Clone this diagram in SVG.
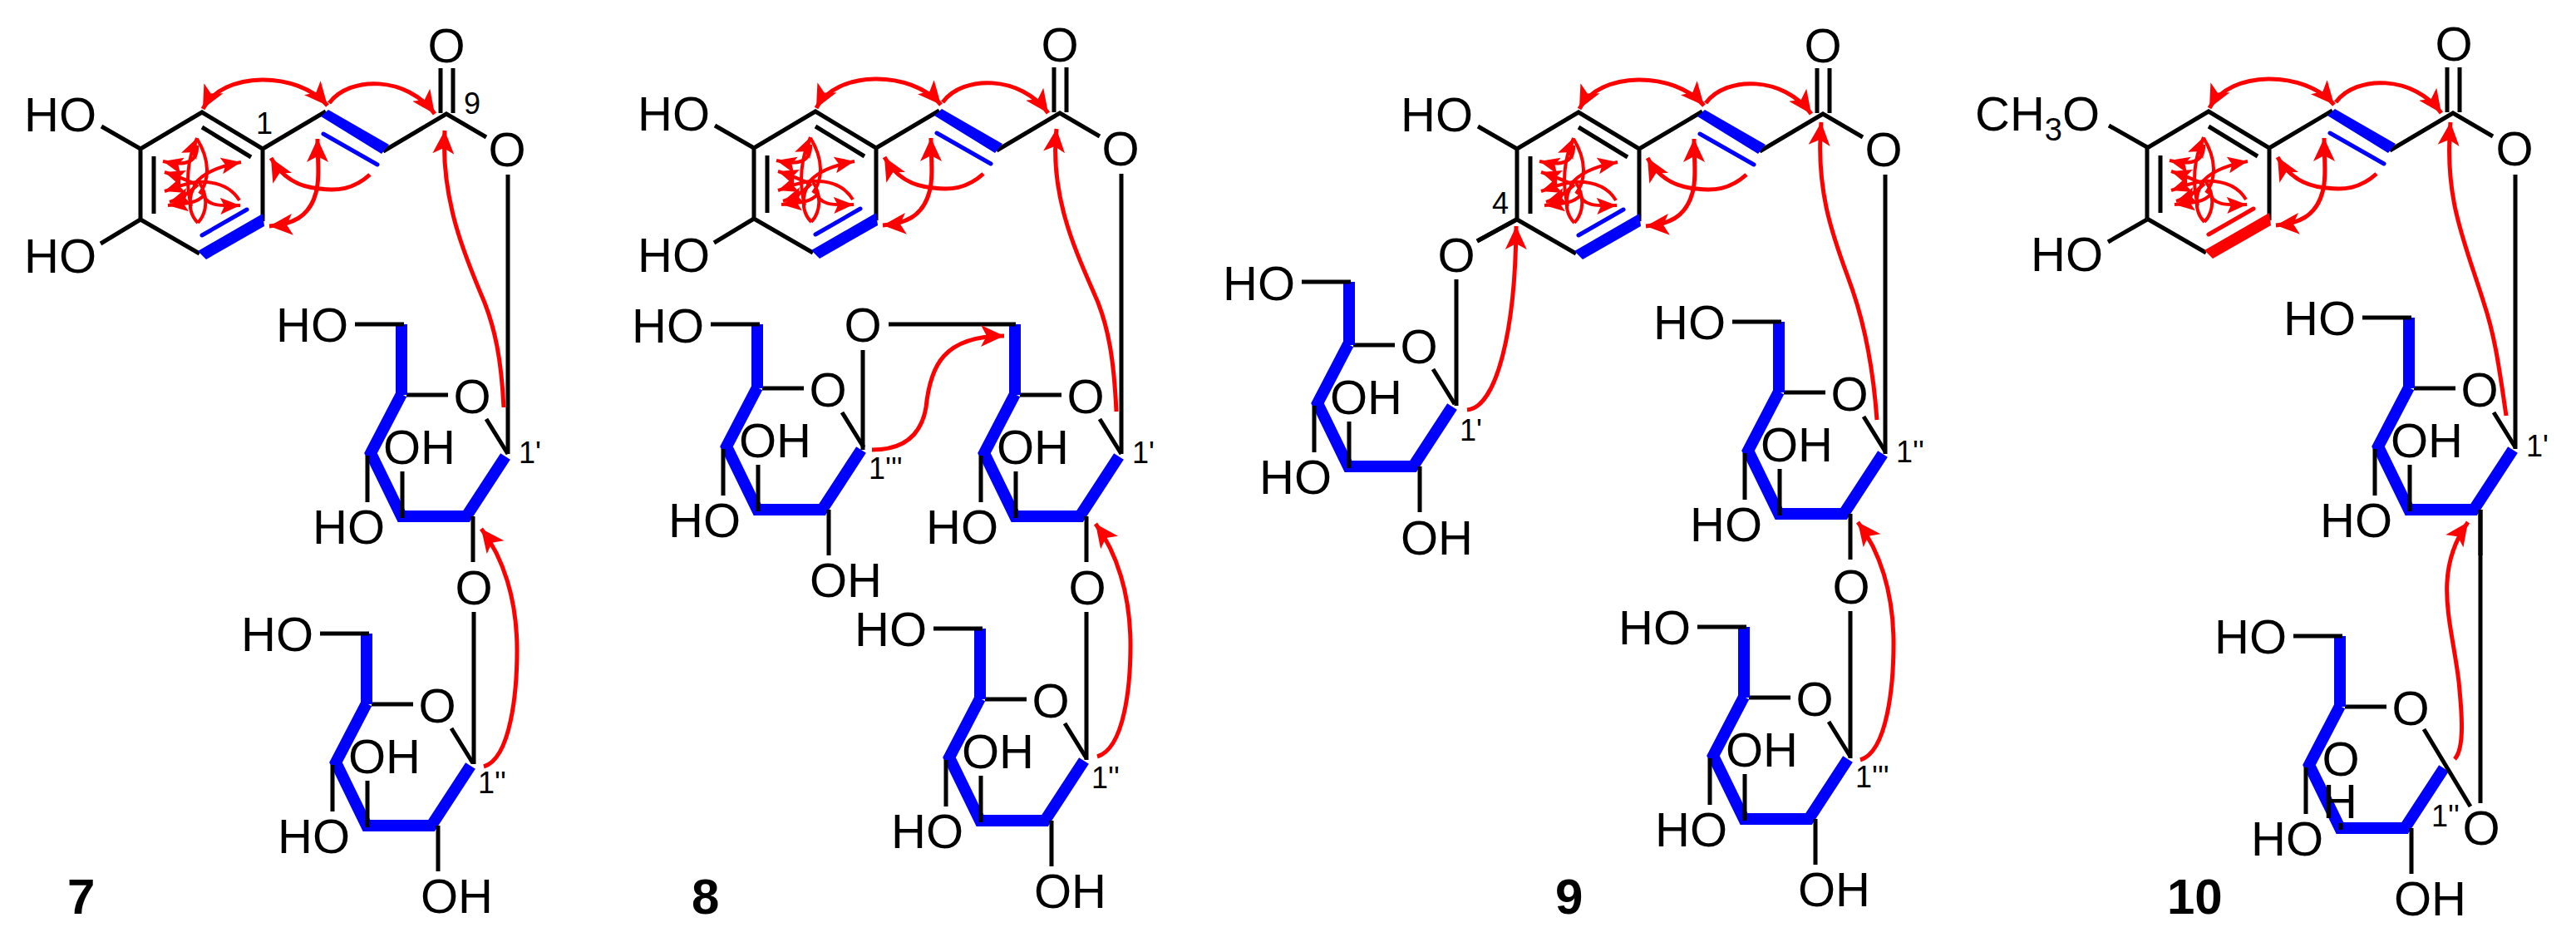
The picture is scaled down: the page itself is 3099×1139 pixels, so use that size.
<svg xmlns="http://www.w3.org/2000/svg" width="3099" height="1139" viewBox="0 0 3099 1139">
<style>
text{font-family:"Liberation Sans",Arial,sans-serif;fill:#000}
.t{font-size:58px}
.n{font-size:36px}
.b{font-size:60px;font-weight:bold}
.m{text-anchor:middle}
.k{fill:none;stroke:#000;stroke-width:5;stroke-linecap:butt;stroke-linejoin:miter}
.c{fill:none;stroke:#00f;stroke-width:14;stroke-linejoin:miter}
.i{fill:none;stroke:#00f;stroke-width:5;stroke-linecap:round}
.ir{fill:none;stroke:#f00;stroke-width:5;stroke-linecap:round}
.r{fill:none;stroke:#f00;stroke-width:5}
.a{marker-end:url(#h)}
.d{marker-start:url(#hs);marker-end:url(#h)}
.s{fill:none;stroke:#f00;stroke-width:4;marker-end:url(#hm)}
.p{fill:none;stroke:#f00;stroke-width:4}
</style>
<defs>
<marker id="h" markerUnits="userSpaceOnUse" markerWidth="30" markerHeight="28" refX="28" refY="14" orient="auto"><path d="M28,14 L0,1 L7,14 L0,27 Z" fill="#f00"/></marker>
<marker id="hs" markerUnits="userSpaceOnUse" markerWidth="30" markerHeight="28" refX="28" refY="14" orient="auto-start-reverse"><path d="M28,14 L0,1 L7,14 L0,27 Z" fill="#f00"/></marker>
<marker id="hm" markerUnits="userSpaceOnUse" markerWidth="26" markerHeight="22" refX="24" refY="11" orient="auto"><path d="M24,11 L0,1 L5,11 L0,21 Z" fill="#f00"/></marker>
<g id="ring">
<path class="k" d="M169,264 V179 L243,135 L316,179 V266 M169,264 L240,305 M243,153 L302,189 M185,188 V257 M316,179 L392,134 M461,182 L537,137 L585,165 M530,82 V136 M545,82 V136"/>
<path fill="#00f" d="M386,140 L395,132 L468,174 L459,185 Z"/>
<path class="i" d="M389,161 L454,198"/>
</g>
<path id="thick" d="M238,302 L248,312 L318,272 L316,257 Z"/>
<g id="hmbc">
<path class="r d" d="M244,131 C268,85 358,85 394,127"/>
<path class="r a" d="M396,124 C420,91 490,91 523,137"/>
<path class="r a" d="M445,210 C425,228 405,230 385,227 C360,225 340,215 326,190"/>
<path class="r d" d="M382,167 C382,190 385,215 380,232 C372,262 350,270 324,272"/>
<path class="p" d="M237,167 C253,193 252,217 240,233 M238,268 C225,255 227,235 235,222 M238,268 C250,255 250,235 240,220"/>
<path class="s" d="M230,248 C223,220 225,193 237,166"/>
<path class="s" d="M237,175 C238,193 226,201 196,194"/>
<path class="s" d="M237,223 C227,217 213,212 198,207"/>
<path class="s" d="M288,241 C277,223 257,218 237,219 C223,220 213,225 198,230"/>
<path class="s" d="M238,222 C230,230 220,238 204,243"/>
<path class="s" d="M245,235 C237,245 220,245 202,247"/>
<path class="s" d="M233,223 C243,208 263,200 290,195"/>
<path class="s" d="M243,230 C247,248 263,248 289,247"/>
</g>
<g id="sugar">
<path class="c" d="M483,474 L446,545 L483,621 H561 L608,549"/>
<path class="k" d="M489,475 H539 M442,548 V604 M569,621 V676"/>
</g>
</defs>
<rect width="3099" height="1139" fill="#fff"/>

<g id="compound-7">
<g id="c7-acyl"><use href="#ring"/><use href="#thick" fill="#00f"/><path class="i" d="M243,283 L297,252"/><path class="k" d="M122,152 L169,179 M121,293 L169,264"/>
<text class="t" x="29" y="158">HO</text><text class="t" x="29" y="328">HO</text><text class="t m" x="537" y="75">O</text><text class="t m" x="610" y="200">O</text><text class="n" x="308" y="161">1</text><text class="n" x="558" y="137">9</text></g>
<g id="c7-sugar-1"><use href="#sugar"/><path class="c" d="M483,390 V475"/><path class="k" d="M427,390 H486 M585,504 L611,546 M484,567 V623"/>
<text class="t" x="332" y="411">HO</text><text class="t m" x="568" y="497">O</text><text class="t" x="461" y="558">OH</text><text class="t" x="376" y="654">HO</text><text class="n" x="624" y="557">1'</text><text class="t m" x="570" y="727">O</text></g>
<g id="c7-sugar-2" transform="translate(-42,372)"><use href="#sugar"/><path class="c" d="M483,390 V475"/><path class="k" d="M427,390 H486 M585,504 L611,546 M484,567 V623"/>
<text class="t" x="332" y="411">HO</text><text class="t m" x="568" y="497">O</text><text class="t" x="461" y="558">OH</text><text class="t" x="376" y="654">HO</text><text class="t" x="548" y="726">OH</text><text class="n" x="617" y="582">1''</text></g>
<text id="c7-label" class="b" x="81" y="1099">7</text>
</g>

<g id="compound-8">
<g id="c8-acyl" transform="translate(738,-1)"><use href="#ring"/><use href="#thick" fill="#00f"/><path class="i" d="M243,283 L297,252"/><path class="k" d="M122,152 L169,179 M121,293 L169,264"/>
<text class="t" x="29" y="158">HO</text><text class="t" x="29" y="328">HO</text><text class="t m" x="537" y="75">O</text><text class="t m" x="610" y="200">O</text></g>
<g id="c8-sugar-1" transform="translate(738,0)"><use href="#sugar"/><path class="c" d="M483,390 V475"/><path class="k" d="M585,504 L611,546 M484,567 V623"/>
<text class="t m" x="568" y="497">O</text><text class="t" x="461" y="558">OH</text><text class="t" x="376" y="654">HO</text><text class="n" x="624" y="557">1'</text><text class="t m" x="570" y="727">O</text></g>
<g id="c8-sugar-2" transform="translate(696,366)"><use href="#sugar"/><path class="c" d="M483,390 V475"/><path class="k" d="M427,390 H486 M585,504 L611,546 M484,567 V623"/>
<text class="t" x="332" y="411">HO</text><text class="t m" x="568" y="497">O</text><text class="t" x="461" y="558">OH</text><text class="t" x="376" y="654">HO</text><text class="t" x="548" y="726">OH</text><text class="n" x="617" y="582">1''</text></g>
<g id="c8-sugar-3" transform="translate(428,-8)"><use href="#sugar"/><path class="c" d="M483,398 V475"/><path class="k" d="M427,398 H486 M585,504 L611,546 M484,567 V623"/>
<text class="t" x="332" y="420">HO</text><text class="t m" x="568" y="497">O</text><text class="t" x="461" y="558">OH</text><text class="t" x="376" y="654">HO</text><text class="t" x="546" y="726">OH</text><text class="n" x="617" y="584">1'''</text><text class="t m" x="610" y="419">O</text></g>
<text id="c8-label" class="b" x="832" y="1099">8</text>
</g>

<g id="compound-9">
<g id="c9-acyl" transform="translate(1656,0)"><use href="#ring"/><use href="#thick" fill="#00f"/><path class="i" d="M243,283 L297,252"/><path class="k" d="M122,152 L169,179 M121,290 L169,264"/>
<text class="t" x="29" y="158">HO</text><text class="t m" x="537" y="75">O</text><text class="t m" x="610" y="200">O</text></g>
<text class="t m" x="1752" y="327">O</text><text class="n" x="1795" y="257">4</text>
<g id="c9-sugar-1" transform="translate(1657,-3)"><use href="#sugar"/><path class="c" d="M483,390 V475"/><path class="k" d="M427,390 H486 M585,504 L611,546 M484,567 V623"/>
<text class="t" x="332" y="411">HO</text><text class="t m" x="568" y="497">O</text><text class="t" x="461" y="558">OH</text><text class="t" x="376" y="654">HO</text><text class="n" x="624" y="559">1''</text><text class="t m" x="570" y="729">O</text></g>
<g id="c9-sugar-2" transform="translate(1615,364)"><use href="#sugar"/><path class="c" d="M483,390 V475"/><path class="k" d="M427,390 H486 M585,504 L611,546 M484,567 V623"/>
<text class="t" x="332" y="411">HO</text><text class="t m" x="568" y="497">O</text><text class="t" x="461" y="558">OH</text><text class="t" x="376" y="654">HO</text><text class="t" x="548" y="726">OH</text><text class="n" x="617" y="583">1'''</text></g>
<g id="c9-sugar-3" transform="translate(1139,-60)"><use href="#sugar"/><path class="c" d="M484,399 V475"/><path class="k" d="M427,399 H486 M585,504 L611,546 M484,567 V623"/>
<text class="t" x="332" y="421">HO</text><text class="t m" x="568" y="497">O</text><text class="t" x="461" y="558">OH</text><text class="t" x="376" y="654">HO</text><text class="t" x="546" y="727">OH</text><text class="n" x="617" y="590">1'</text></g>
<text id="c9-label" class="b" x="1871" y="1099">9</text>
</g>

<g id="compound-10">
<g id="c10-acyl" transform="translate(2414,-1)"><use href="#ring"/><use href="#thick" fill="#f00"/><path class="ir" d="M243,283 L297,252"/><path class="k" d="M123,152 L169,178 M122,292 L169,265"/>
<text class="t m" x="538" y="74">O</text><text class="t m" x="611" y="200">O</text></g>
<text class="t" x="2376" y="157">CH<tspan font-size="38" dy="12">3</tspan><tspan dy="-12">O</tspan></text>
<text class="t" x="2443" y="326">HO</text>
<g id="c10-sugar-1" transform="translate(2415,-8)"><use href="#sugar"/><path class="c" d="M483,390 V475"/><path class="k" d="M427,390 H486 M585,504 L611,546 M484,567 V623"/>
<text class="t" x="332" y="411">HO</text><text class="t m" x="568" y="497">O</text><text class="t" x="461" y="558">OH</text><text class="t" x="376" y="654">HO</text><text class="n" x="624" y="557">1'</text></g>
<g id="c10-sugar-2" transform="translate(2332,375)"><use href="#sugar"/><path class="c" d="M483,390 V475"/><path class="k" d="M427,390 H486 M484,615 V623"/>
<text class="t" x="332" y="411">HO</text><text class="t m" x="568" y="497">O</text><text class="t m"><tspan x="484" y="558">O</tspan><tspan x="483" y="609">H</tspan></text><text class="t" x="376" y="654">HO</text><text class="t" x="548" y="726">OH</text><text class="n" x="593" y="619">1''</text><text class="t m" x="653" y="641">O</text></g>
<text id="c10-label" class="b" x="2607" y="1099">10</text>
</g>

<g id="connectors">
<path class="k" d="M611,210 V546 M570,736 V919"/>
<path class="k" d="M1349,209 V546 M1307,736 V914 M1038,421 V541 M1069,390 H1222"/>
<path class="k" d="M2268,210 V546 M2226,735 V912 M1752,336 V488 M1777,290 L1826,263"/>
<path class="k" d="M3026,210 V540 M2984,613 V966 M2916,877 L2972,970"/>
<use href="#hmbc"/>
<use href="#hmbc" x="738" y="-1"/>
<use href="#hmbc" x="1656"/>
<use href="#hmbc" x="2414" y="-1"/>
<path id="r7a" class="r a" d="M606,490 C603,430 595,395 583,364 C560,310 530,240 535,157"/>
<path id="r7b" class="r a" d="M582,922 C615,912 622,830 622,782 C622,720 605,670 579,636"/>
<path class="r a" d="M1343,495 C1340,430 1333,395 1321,364 C1298,310 1262,240 1271,155"/>
<path class="r a" d="M1320,910 C1353,900 1360,824 1360,776 C1360,714 1343,664 1318,630"/>
<path class="r a" d="M1049,541 C1085,541 1108,525 1114,490 C1119,440 1135,404 1208,404"/>
<path class="r a" d="M2258,505 C2254,450 2246,400 2229,350 C2212,300 2183,240 2191,147"/>
<path class="r a" d="M2238,914 C2271,904 2278,822 2278,774 C2278,712 2261,662 2235,628"/>
<path class="r a" d="M1765,493 C1800,490 1823,400 1824,272"/>
<path class="r a" d="M3015,500 C3005,430 3000,400 2988,364 C2965,290 2940,240 2948,147"/>
<path class="r a" d="M2953,913 C2965,900 2962,860 2958,820 C2950,750 2925,690 2969,628"/>
</g>
</svg>
